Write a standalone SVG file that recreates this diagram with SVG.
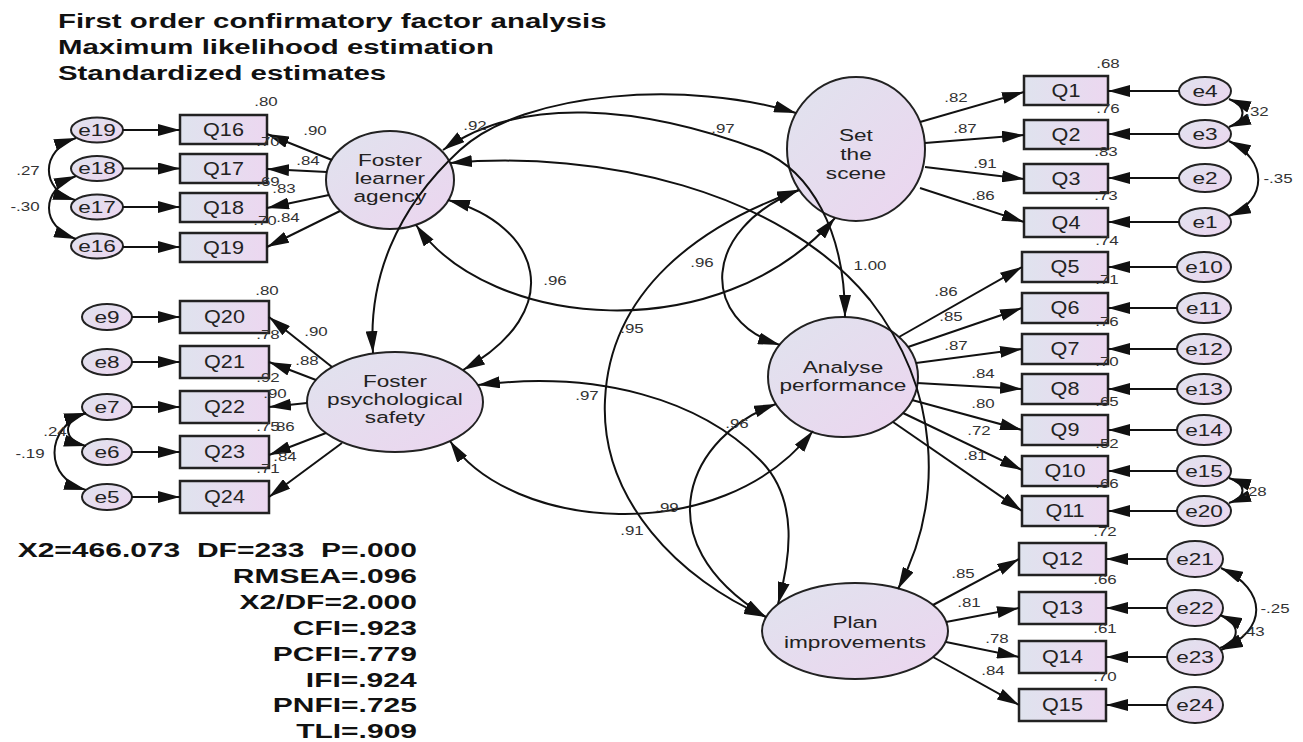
<svg xmlns="http://www.w3.org/2000/svg" width="1303" height="742" viewBox="0 0 1303 742">
<defs>
<linearGradient id="gb" x1="0" y1="0" x2="1" y2="0"><stop offset="0" stop-color="#dfe3ee"/><stop offset="1" stop-color="#ecd7f0"/></linearGradient>
<linearGradient id="ge" x1="0" y1="0" x2="1" y2="1"><stop offset="0" stop-color="#e0e3ee"/><stop offset="1" stop-color="#ecd5ef"/></linearGradient>
<marker id="ah" viewBox="0 0 22 12" refX="22" refY="6" markerWidth="22" markerHeight="12" markerUnits="userSpaceOnUse" orient="auto-start-reverse"><path d="M0,0 L22,6 L0,12 z" fill="#111"/></marker>
<style>
.t{font-family:"Liberation Sans",Arial,Helvetica,sans-serif;fill:#222;transform-box:fill-box}
.title{font-size:20px;font-weight:bold;fill:#111;transform-origin:left center;transform:scaleX(1.47)}
.stat{font-size:20px;font-weight:bold;fill:#111;text-anchor:end;transform-origin:right center;transform:scaleX(1.5)}
.lat{font-size:17px;text-anchor:middle;transform-origin:center;transform:scaleX(1.33)}
.q{font-size:18px;text-anchor:middle;transform-origin:center;transform:scaleX(1.2)}
.e{font-size:17px;text-anchor:middle;transform-origin:center;transform:scaleX(1.33)}
.n{font-size:13px;text-anchor:middle;fill:#333;transform-origin:center;transform:scaleX(1.3)}
.box{fill:url(#gb);stroke:#222;stroke-width:2.5}
.ell{fill:url(#ge);stroke:#222;stroke-width:2}
.ln{fill:none;stroke:#111;stroke-width:2;marker-end:url(#ah)}
.cv{fill:none;stroke:#111;stroke-width:2;marker-start:url(#ah);marker-end:url(#ah)}
</style>
</defs>
<rect width="1303" height="742" fill="#fff"/>

<g id="title">
<text class="t title" x="58" y="28">First order confirmatory factor analysis</text>
<text class="t title" x="58" y="54">Maximum likelihood estimation</text>
<text class="t title" x="58" y="80">Standardized estimates</text>
</g>

<g id="fit">
<text class="t stat" x="417" y="557" xml:space="preserve">X2=466.073  DF=233  P=.000</text>
<text class="t stat" x="417" y="583">RMSEA=.096</text>
<text class="t stat" x="417" y="609">X2/DF=2.000</text>
<text class="t stat" x="417" y="635">CFI=.923</text>
<text class="t stat" x="417" y="661">PCFI=.779</text>
<text class="t stat" x="417" y="687">IFI=.924</text>
<text class="t stat" x="417" y="712">PNFI=.725</text>
<text class="t stat" x="417" y="738">TLI=.909</text>
</g>

<!-- latent nodes -->
<g id="FLA"><ellipse class="ell" cx="390" cy="180" rx="64" ry="49"/><text class="t lat" x="390" y="166">Foster</text><text class="t lat" x="390" y="184">learner</text><text class="t lat" x="390" y="202">agency</text></g>
<g id="FPS"><ellipse class="ell" cx="395" cy="402" rx="88" ry="50"/><text class="t lat" x="395" y="387">Foster</text><text class="t lat" x="395" y="405">psychological</text><text class="t lat" x="395" y="423">safety</text></g>
<g id="STS"><ellipse class="ell" cx="856" cy="149" rx="69" ry="72"/><text class="t lat" x="856" y="141">Set</text><text class="t lat" x="856" y="160">the</text><text class="t lat" x="856" y="179">scene</text></g>
<g id="AP"><ellipse class="ell" cx="843" cy="377" rx="75" ry="60"/><text class="t lat" x="843" y="373">Analyse</text><text class="t lat" x="843" y="391">performance</text></g>
<g id="PI"><ellipse class="ell" cx="855" cy="631" rx="93" ry="48"/><text class="t lat" x="855" y="628">Plan</text><text class="t lat" x="855" y="648">improvements</text></g>

<!-- left observed -->
<g id="Q16"><rect class="box" x="180" y="115" width="87" height="29"/><text class="t q" x="223.5" y="136">Q16</text></g>
<g id="Q17"><rect class="box" x="180" y="154" width="87" height="29"/><text class="t q" x="223.5" y="175">Q17</text></g>
<g id="Q18"><rect class="box" x="180" y="193" width="87" height="29"/><text class="t q" x="223.5" y="214">Q18</text></g>
<g id="Q19"><rect class="box" x="180" y="233" width="87" height="29"/><text class="t q" x="223.5" y="254">Q19</text></g>
<g id="Q20"><rect class="box" x="180" y="301" width="89" height="32"/><text class="t q" x="224.5" y="323.5">Q20</text></g>
<g id="Q21"><rect class="box" x="180" y="346" width="89" height="32"/><text class="t q" x="224.5" y="368.5">Q21</text></g>
<g id="Q22"><rect class="box" x="180" y="391" width="89" height="32"/><text class="t q" x="224.5" y="413.5">Q22</text></g>
<g id="Q23"><rect class="box" x="180" y="436" width="89" height="32"/><text class="t q" x="224.5" y="458.5">Q23</text></g>
<g id="Q24"><rect class="box" x="180" y="481" width="89" height="32"/><text class="t q" x="224.5" y="503.5">Q24</text></g>

<g id="e19"><ellipse class="ell" cx="97" cy="130" rx="26" ry="12.5"/><text class="t e" x="97" y="136">e19</text></g>
<g id="e18"><ellipse class="ell" cx="97" cy="168.5" rx="26" ry="12.5"/><text class="t e" x="97" y="174.5">e18</text></g>
<g id="e17"><ellipse class="ell" cx="97" cy="207" rx="26" ry="12.5"/><text class="t e" x="97" y="213">e17</text></g>
<g id="e16"><ellipse class="ell" cx="97" cy="246" rx="26" ry="12.5"/><text class="t e" x="97" y="252">e16</text></g>
<g id="e9"><ellipse class="ell" cx="107" cy="317" rx="25" ry="13"/><text class="t e" x="107" y="323">e9</text></g>
<g id="e8"><ellipse class="ell" cx="107" cy="362" rx="25" ry="13"/><text class="t e" x="107" y="368">e8</text></g>
<g id="e7"><ellipse class="ell" cx="107" cy="407" rx="25" ry="13"/><text class="t e" x="107" y="413">e7</text></g>
<g id="e6"><ellipse class="ell" cx="107" cy="452" rx="25" ry="13"/><text class="t e" x="107" y="458">e6</text></g>
<g id="e5"><ellipse class="ell" cx="107" cy="497" rx="25" ry="13"/><text class="t e" x="107" y="503">e5</text></g>

<!-- right observed -->
<g id="Q1"><rect class="box" x="1024" y="76" width="84" height="29"/><text class="t q" x="1066" y="97">Q1</text></g>
<g id="Q2"><rect class="box" x="1024" y="120" width="84" height="29"/><text class="t q" x="1066" y="141">Q2</text></g>
<g id="Q3"><rect class="box" x="1024" y="164" width="84" height="29"/><text class="t q" x="1066" y="185">Q3</text></g>
<g id="Q4"><rect class="box" x="1024" y="208" width="84" height="29"/><text class="t q" x="1066" y="229">Q4</text></g>
<g id="Q5"><rect class="box" x="1022" y="252" width="86" height="30"/><text class="t q" x="1065" y="273.5">Q5</text></g>
<g id="Q6"><rect class="box" x="1022" y="293" width="86" height="30"/><text class="t q" x="1065" y="314.5">Q6</text></g>
<g id="Q7"><rect class="box" x="1022" y="334" width="86" height="30"/><text class="t q" x="1065" y="355.5">Q7</text></g>
<g id="Q8"><rect class="box" x="1022" y="374" width="86" height="30"/><text class="t q" x="1065" y="395.5">Q8</text></g>
<g id="Q9"><rect class="box" x="1022" y="415" width="86" height="30"/><text class="t q" x="1065" y="436.5">Q9</text></g>
<g id="Q10"><rect class="box" x="1022" y="456" width="86" height="30"/><text class="t q" x="1065" y="477.5">Q10</text></g>
<g id="Q11"><rect class="box" x="1022" y="496" width="86" height="30"/><text class="t q" x="1065" y="517.5">Q11</text></g>
<g id="Q12"><rect class="box" x="1019" y="543" width="87" height="32"/><text class="t q" x="1062.5" y="565.5">Q12</text></g>
<g id="Q13"><rect class="box" x="1019" y="592" width="87" height="32"/><text class="t q" x="1062.5" y="614.5">Q13</text></g>
<g id="Q14"><rect class="box" x="1019" y="641" width="87" height="32"/><text class="t q" x="1062.5" y="663.5">Q14</text></g>
<g id="Q15"><rect class="box" x="1019" y="689" width="87" height="32"/><text class="t q" x="1062.5" y="711.5">Q15</text></g>

<g id="e4"><ellipse class="ell" cx="1205" cy="91" rx="26" ry="14"/><text class="t e" x="1205" y="97">e4</text></g>
<g id="e3"><ellipse class="ell" cx="1205" cy="134" rx="26" ry="14"/><text class="t e" x="1205" y="140">e3</text></g>
<g id="e2"><ellipse class="ell" cx="1205" cy="178" rx="26" ry="14"/><text class="t e" x="1205" y="184">e2</text></g>
<g id="e1"><ellipse class="ell" cx="1205" cy="222" rx="26" ry="14"/><text class="t e" x="1205" y="228">e1</text></g>
<g id="e10"><ellipse class="ell" cx="1204" cy="267" rx="27" ry="15"/><text class="t e" x="1204" y="273">e10</text></g>
<g id="e11"><ellipse class="ell" cx="1204" cy="308" rx="27" ry="15"/><text class="t e" x="1204" y="314">e11</text></g>
<g id="e12"><ellipse class="ell" cx="1204" cy="349" rx="27" ry="15"/><text class="t e" x="1204" y="355">e12</text></g>
<g id="e13"><ellipse class="ell" cx="1204" cy="389" rx="27" ry="15"/><text class="t e" x="1204" y="395">e13</text></g>
<g id="e14"><ellipse class="ell" cx="1204" cy="430" rx="27" ry="15"/><text class="t e" x="1204" y="436">e14</text></g>
<g id="e15"><ellipse class="ell" cx="1204" cy="471" rx="27" ry="15"/><text class="t e" x="1204" y="477">e15</text></g>
<g id="e20"><ellipse class="ell" cx="1204" cy="511" rx="27" ry="15"/><text class="t e" x="1204" y="517">e20</text></g>
<g id="e21"><ellipse class="ell" cx="1195" cy="559" rx="28" ry="18"/><text class="t e" x="1195" y="565">e21</text></g>
<g id="e22"><ellipse class="ell" cx="1195" cy="608" rx="28" ry="18"/><text class="t e" x="1195" y="614">e22</text></g>
<g id="e23"><ellipse class="ell" cx="1195" cy="657" rx="28" ry="18"/><text class="t e" x="1195" y="663">e23</text></g>
<g id="e24"><ellipse class="ell" cx="1195" cy="705" rx="28" ry="18"/><text class="t e" x="1195" y="711">e24</text></g>

<g id="connectors">
<!-- error to indicator -->
<path class="ln" d="M123,130 L180,130"/>
<path class="ln" d="M123,168.5 L180,168.5"/>
<path class="ln" d="M123,207 L180,207"/>
<path class="ln" d="M123,247 L180,247"/>
<path class="ln" d="M132,317 L180,317"/>
<path class="ln" d="M132,362 L180,362"/>
<path class="ln" d="M132,407 L180,407"/>
<path class="ln" d="M132,452 L180,452"/>
<path class="ln" d="M132,497 L180,497"/>
<path class="ln" d="M1179,91 L1108,91"/>
<path class="ln" d="M1179,134 L1108,134"/>
<path class="ln" d="M1179,178 L1108,178"/>
<path class="ln" d="M1179,222 L1108,222"/>
<path class="ln" d="M1177,267 L1108,267"/>
<path class="ln" d="M1177,308 L1108,308"/>
<path class="ln" d="M1177,349 L1108,349"/>
<path class="ln" d="M1177,389 L1108,389"/>
<path class="ln" d="M1177,430 L1108,430"/>
<path class="ln" d="M1177,471 L1108,471"/>
<path class="ln" d="M1177,511 L1108,511"/>
<path class="ln" d="M1167,559 L1106,559"/>
<path class="ln" d="M1167,608 L1106,608"/>
<path class="ln" d="M1167,657 L1106,657"/>
<path class="ln" d="M1167,705 L1106,705"/>
<!-- loadings -->
<path class="ln" d="M332,160 L267,134"/>
<path class="ln" d="M327,172 L267,169"/>
<path class="ln" d="M329,195 L267,208"/>
<path class="ln" d="M340,211 L267,247"/>
<path class="ln" d="M332,367 L269,317"/>
<path class="ln" d="M316,380 L269,362"/>
<path class="ln" d="M307,403 L269,407"/>
<path class="ln" d="M326,433 L269,455"/>
<path class="ln" d="M342,443 L269,497"/>
<path class="ln" d="M920,122 L1024,92"/>
<path class="ln" d="M925,143 L1024,135"/>
<path class="ln" d="M925,167 L1024,179"/>
<path class="ln" d="M920,188 L1024,222"/>
<path class="ln" d="M899,337 L1022,267"/>
<path class="ln" d="M908,347 L1022,308"/>
<path class="ln" d="M916,363 L1022,349"/>
<path class="ln" d="M917,383 L1022,389"/>
<path class="ln" d="M912,400 L1022,430"/>
<path class="ln" d="M903,413 L1022,470"/>
<path class="ln" d="M893,422 L1022,511"/>
<path class="ln" d="M933,605 L1019,559"/>
<path class="ln" d="M946,622 L1019,608"/>
<path class="ln" d="M946,642 L1019,657"/>
<path class="ln" d="M933,657 L1019,705"/>
<!-- error covariances -->
<path class="cv" d="M76,138 C40,150 40,190 75,200"/>
<path class="cv" d="M76,176 C40,190 40,226 76,239"/>
<path class="cv" d="M86,413 C62,420 62,440 86,446"/>
<path class="cv" d="M86,413 C44,428 44,478 86,490"/>
<path class="cv" d="M1229,99 C1247,106 1247,120 1229,127"/>
<path class="cv" d="M1229,141 C1268,160 1268,200 1229,216"/>
<path class="cv" d="M1229,478 C1247,484 1247,497 1229,503"/>
<path class="cv" d="M1221,568 C1268,590 1268,630 1221,650"/>
<path class="cv" d="M1220,615 C1241,624 1241,640 1220,648"/>
<!-- factor covariances -->
<path class="cv" d="M373,353 C368,280 395,210 460,150 C525,90 690,80 796,113"/>
<path class="cv" d="M443,150 C520,95 640,105 760,150 C810,170 845,230 845,317"/>
<path class="cv" d="M450,163 C600,150 780,190 870,300 C940,390 945,500 898,589"/>
<path class="cv" d="M448,200 C540,225 570,310 463,370"/>
<path class="cv" d="M416,225 C490,330 720,350 835,218"/>
<path class="cv" d="M799,190 C700,225 610,290 605,400 C600,500 680,580 766,617"/>
<path class="cv" d="M478,385 C600,370 700,400 760,460 C800,500 790,560 778,604"/>
<path class="cv" d="M450,441 C510,530 720,550 813,431"/>
<path class="cv" d="M776,404 C690,435 640,540 766,617"/>
<path class="cv" d="M799,190 C700,230 700,320 780,345"/>
</g>

<g id="labels">
<text class="t n" x="266" y="106">.80</text>
<text class="t n" x="315" y="135">.90</text>
<text class="t n" x="268" y="146">.70</text>
<text class="t n" x="308" y="165">.84</text>
<text class="t n" x="268" y="186">.69</text>
<text class="t n" x="284" y="193">.83</text>
<text class="t n" x="265" y="225">.70</text>
<text class="t n" x="288" y="222">.84</text>
<text class="t n" x="28" y="175">.27</text>
<text class="t n" x="25" y="211">-.30</text>
<text class="t n" x="267" y="295">.80</text>
<text class="t n" x="316" y="336">.90</text>
<text class="t n" x="268" y="339">.78</text>
<text class="t n" x="307" y="365">.88</text>
<text class="t n" x="268" y="382">.92</text>
<text class="t n" x="275" y="398">.90</text>
<text class="t n" x="268" y="431">.75</text>
<text class="t n" x="283" y="431">.86</text>
<text class="t n" x="285" y="461">.84</text>
<text class="t n" x="268" y="473">.71</text>
<text class="t n" x="55" y="436">.24</text>
<text class="t n" x="30" y="458">-.19</text>
<text class="t n" x="956" y="102">.82</text>
<text class="t n" x="965" y="133">.87</text>
<text class="t n" x="985" y="168">.91</text>
<text class="t n" x="983" y="200">.86</text>
<text class="t n" x="1108" y="68">.68</text>
<text class="t n" x="1108" y="113">.76</text>
<text class="t n" x="1106" y="156">.83</text>
<text class="t n" x="1106" y="200">.73</text>
<text class="t n" x="1107" y="245">.74</text>
<text class="t n" x="1257" y="116">.32</text>
<text class="t n" x="1278" y="183">-.35</text>
<text class="t n" x="946" y="296">.86</text>
<text class="t n" x="951" y="321">.85</text>
<text class="t n" x="956" y="350">.87</text>
<text class="t n" x="983" y="378">.84</text>
<text class="t n" x="983" y="408">.80</text>
<text class="t n" x="979" y="435">.72</text>
<text class="t n" x="975" y="460">.81</text>
<text class="t n" x="1107" y="284">.71</text>
<text class="t n" x="1107" y="326">.76</text>
<text class="t n" x="1107" y="366">.70</text>
<text class="t n" x="1107" y="406">.65</text>
<text class="t n" x="1107" y="448">.52</text>
<text class="t n" x="1107" y="488">.66</text>
<text class="t n" x="1105" y="536">.72</text>
<text class="t n" x="1255" y="496">.28</text>
<text class="t n" x="963" y="578">.85</text>
<text class="t n" x="969" y="607">.81</text>
<text class="t n" x="997" y="643">.78</text>
<text class="t n" x="993" y="675">.84</text>
<text class="t n" x="1105" y="584">.66</text>
<text class="t n" x="1105" y="633">.61</text>
<text class="t n" x="1105" y="681">.70</text>
<text class="t n" x="1275" y="613">-.25</text>
<text class="t n" x="1253" y="636">.43</text>
<text class="t n" x="475" y="130">.92</text>
<text class="t n" x="723" y="133">.97</text>
<text class="t n" x="555" y="285">.96</text>
<text class="t n" x="702" y="267">.96</text>
<text class="t n" x="870" y="270">1.00</text>
<text class="t n" x="632" y="333">.95</text>
<text class="t n" x="587" y="400">.97</text>
<text class="t n" x="737" y="428">.96</text>
<text class="t n" x="667" y="512">.99</text>
<text class="t n" x="632" y="535">.91</text>
</g>
</svg>
